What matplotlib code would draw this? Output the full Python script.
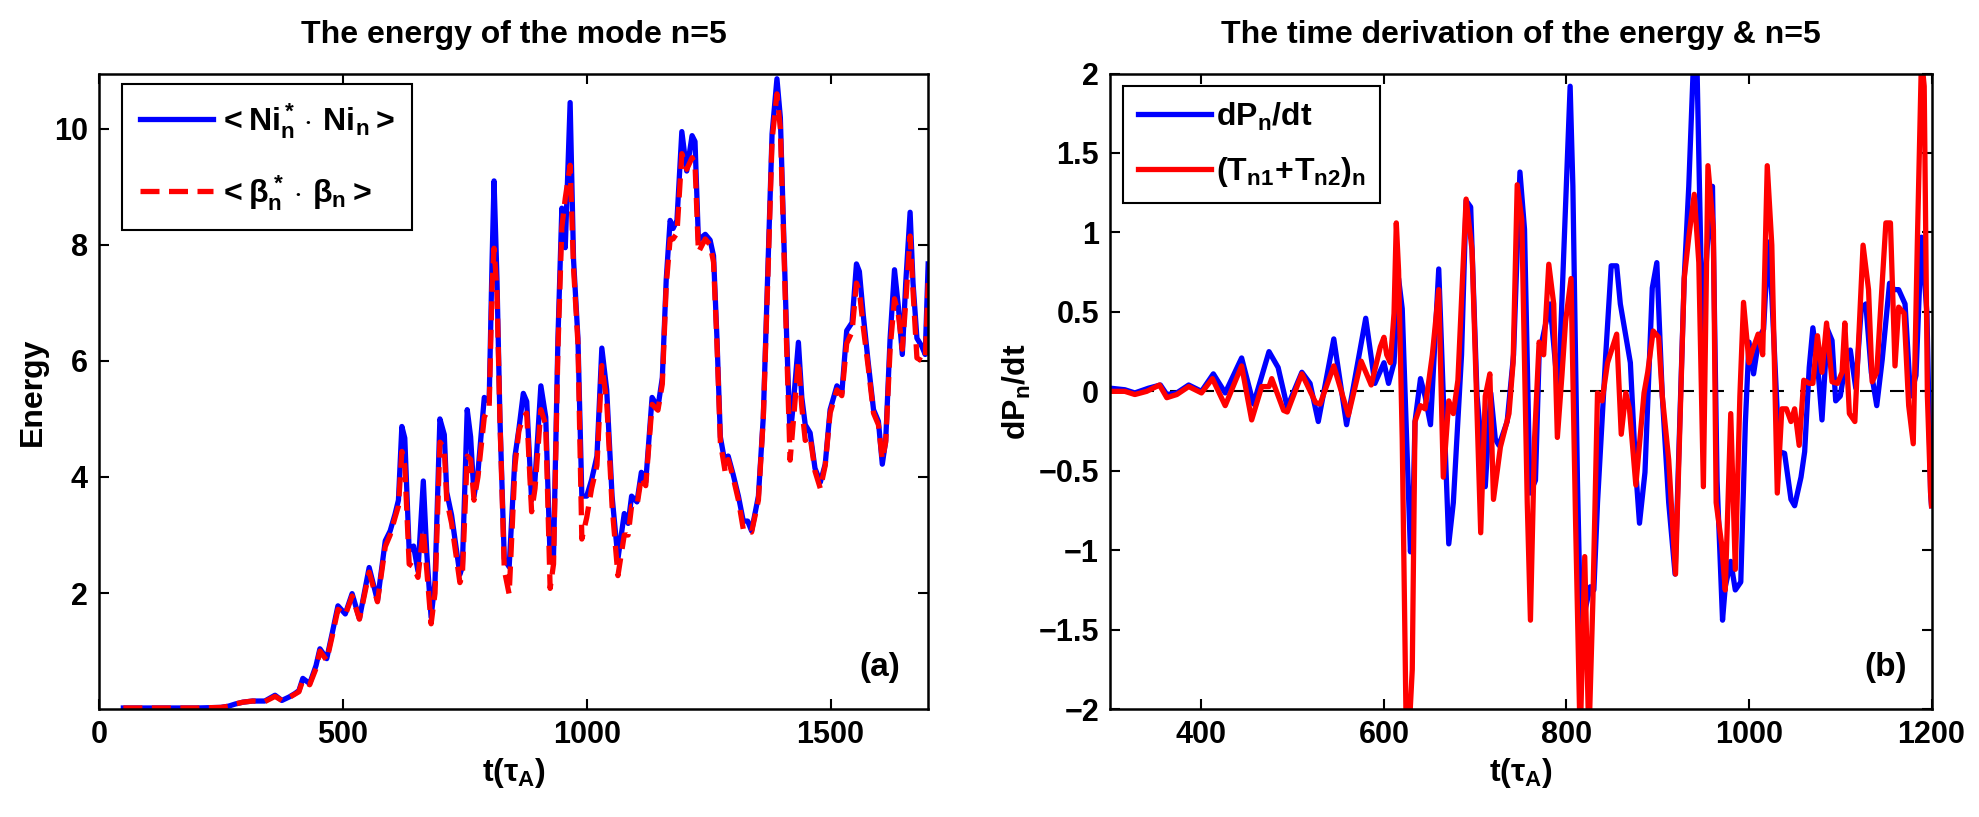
import numpy as np
import matplotlib
matplotlib.use("Agg")
import matplotlib.pyplot as plt

plt.rcParams['font.family'] = ['Liberation Sans', 'DejaVu Sans']
plt.rcParams['font.weight'] = 'bold'
plt.rcParams['mathtext.fontset'] = 'custom'
plt.rcParams['mathtext.rm'] = 'Liberation Sans:bold'
plt.rcParams['mathtext.it'] = 'Liberation Sans:bold'
plt.rcParams['mathtext.bf'] = 'Liberation Sans:bold'

# ---- panel (a): energy of mode n=5 ----
t_a = [50, 100, 150, 200, 250, 265, 280, 295, 315, 340, 361, 375, 390, 402, 410,
       418, 432, 445, 453, 467, 478, 490, 505, 519, 534, 554, 571, 587, 597, 607,
       614, 621, 627, 636, 645, 654, 665, 672, 681, 689, 699, 708, 713, 723, 740,
       745, 755, 762, 769, 777, 790, 800, 806, 810, 816, 822, 831, 841, 853, 861,
       870, 877, 887, 894, 906, 916, 925, 932, 941, 949, 956, 966, 973, 982, 990,
       1000, 1010, 1021, 1031, 1041, 1052, 1064, 1077, 1085, 1092, 1103, 1112, 1121, 1134, 1146,
       1155, 1163, 1171, 1177, 1185, 1195, 1205, 1216, 1222, 1229, 1243, 1253, 1260, 1267, 1274,
       1284, 1290, 1300, 1311, 1321, 1330, 1338, 1352, 1362, 1372, 1380, 1390, 1397, 1403, 1410,
       1417, 1424, 1434, 1441, 1448, 1458, 1468, 1479, 1489, 1499, 1513, 1523, 1533, 1544, 1553,
       1559, 1567, 1577, 1588, 1598, 1606, 1613, 1622, 1631, 1639, 1647, 1654, 1663, 1669, 1677,
       1687, 1694, 1700]
energy_ni = [0.02, 0.02, 0.02, 0.02, 0.03, 0.05, 0.09, 0.12, 0.14, 0.14, 0.24, 0.15, 0.21, 0.27, 0.32,
             0.53, 0.44, 0.75, 1.04, 0.87, 1.30, 1.78, 1.64, 1.99, 1.56, 2.44, 1.87, 2.90, 3.07, 3.36,
             3.60, 4.87, 4.67, 2.73, 2.81, 2.38, 3.93, 2.70, 1.58, 2.20, 5.00, 4.73, 3.74, 3.34, 2.32,
             2.45, 5.16, 4.69, 3.67, 4.08, 5.37, 5.30, 7.74, 9.10, 7.41, 5.03, 2.59, 2.45, 4.36, 4.83,
             5.44, 5.30, 3.60, 3.95, 5.57, 5.03, 2.59, 2.66, 6.39, 8.63, 7.95, 10.45, 7.74, 6.39, 3.67,
             3.67, 3.95, 4.36, 6.22, 5.50, 3.67, 2.59, 3.37, 3.20, 3.67, 3.57, 4.08, 3.91, 5.37, 5.20,
             5.71, 7.40, 8.42, 8.28, 8.42, 9.95, 9.27, 9.88, 9.78, 8.08, 8.18, 8.08, 7.81, 6.39, 4.69,
             4.22, 4.36, 4.05, 3.67, 3.24, 3.24, 3.07, 3.67, 5.03, 7.74, 9.91, 10.86, 10.19, 8.42, 6.39,
             4.69, 5.30, 6.32, 5.37, 4.90, 4.76, 4.15, 3.91, 4.22, 5.16, 5.57, 5.44, 6.52, 6.66, 7.67,
             7.54, 6.79, 5.98, 5.16, 4.96, 4.22, 4.63, 6.39, 7.57, 6.93, 6.11, 7.34, 8.56, 7.34, 6.39,
             6.25, 6.11, 7.67]
energy_beta = [0.02, 0.02, 0.02, 0.02, 0.03, 0.05, 0.09, 0.12, 0.14, 0.13, 0.22, 0.15, 0.20, 0.26, 0.30,
               0.50, 0.42, 0.70, 1.00, 0.84, 1.25, 1.72, 1.62, 1.95, 1.55, 2.36, 1.85, 2.80, 3.00, 3.30,
               3.50, 4.44, 4.20, 2.50, 2.45, 2.27, 3.10, 2.40, 1.47, 2.00, 4.60, 4.50, 3.60, 3.20, 2.18,
               2.30, 4.36, 4.30, 3.60, 4.00, 5.03, 5.20, 7.30, 7.94, 7.20, 5.00, 2.40, 1.98, 4.20, 4.80,
               5.03, 5.10, 3.40, 3.80, 5.16, 4.90, 2.08, 2.50, 6.20, 8.30, 8.80, 9.37, 7.60, 6.30, 2.93,
               3.30, 3.80, 4.20, 5.92, 5.30, 3.50, 2.30, 3.00, 3.00, 3.50, 3.50, 4.00, 3.85, 5.25, 5.15,
               5.60, 7.30, 8.10, 8.10, 8.20, 9.57, 9.30, 9.50, 9.40, 7.87, 8.10, 8.00, 7.70, 6.30, 4.60,
               4.08, 4.30, 4.00, 3.60, 3.10, 3.10, 3.05, 3.60, 5.00, 7.60, 9.80, 10.60, 10.00, 8.30, 6.20,
               4.29, 5.00, 6.00, 5.20, 4.63, 4.70, 4.10, 3.80, 4.20, 5.10, 5.50, 5.40, 6.30, 6.50, 7.34,
               7.20, 6.58, 5.90, 5.10, 4.90, 4.30, 4.60, 6.20, 7.07, 6.80, 6.20, 7.00, 8.15, 7.20, 6.05,
               6.00, 6.00, 7.34]

# ---- panel (b): time derivation of the energy ----
t_dp = [300, 316, 327, 342, 355, 362, 373, 386, 400, 413, 426, 444, 457, 474, 484,
        494, 510, 519, 528, 545, 559, 580, 590, 600, 605, 611, 616, 620, 629, 632,
        634, 640, 645, 651, 660, 665, 671, 676, 685, 690, 695, 702, 711, 717, 722,
        726, 735, 742, 749, 754, 760, 766, 770, 777, 782, 791, 797, 804, 807, 812,
        816, 821, 826, 830, 834, 843, 849, 855, 859, 870, 876, 880, 886, 894, 899,
        905, 912, 919, 929, 934, 939, 943, 949, 954, 960, 965, 971, 974, 980, 985,
        991, 996, 1000, 1005, 1011, 1016, 1021, 1025, 1033, 1039, 1046, 1050, 1057, 1061, 1066,
        1070, 1075, 1080, 1086, 1091, 1095, 1100, 1106, 1111, 1117, 1123, 1128, 1134, 1140, 1146,
        1154, 1159, 1164, 1171, 1177, 1183, 1189, 1195, 1199, 1200]
dp_dt = [0.02, 0.01, -0.01, 0.02, 0.04, -0.02, -0.01, 0.04, 0.00, 0.11, -0.01, 0.21, -0.08, 0.25, 0.15,
         -0.10, 0.12, 0.05, -0.19, 0.33, -0.21, 0.46, 0.05, 0.18, 0.05, 0.18, 0.71, 0.52, -1.01, -0.70,
         -0.19, 0.08, -0.03, -0.21, 0.77, -0.03, -0.96, -0.70, 0.23, 1.20, 1.16, -0.03, -0.60, -0.01, -0.30,
         -0.34, -0.19, 0.23, 1.38, 1.02, -0.64, -0.56, 0.23, 0.42, 0.55, -0.03, 0.87, 1.92, 1.29, -0.56,
         -1.62, -1.36, -1.23, -1.25, -0.70, 0.23, 0.79, 0.79, 0.55, 0.18, -0.51, -0.83, -0.51, 0.65, 0.81,
         -0.03, -0.70, -1.15, 0.71, 1.29, 2.05, 2.05, 0.36, 0.89, 1.29, -0.56, -1.44, -1.23, -1.07, -1.25,
         -1.20, -0.20, 0.31, 0.11, 0.34, 0.39, 0.94, 0.60, -0.38, -0.39, -0.68, -0.72, -0.54, -0.38, 0.15,
         0.40, 0.18, -0.18, 0.39, 0.32, -0.06, -0.03, 0.18, 0.26, 0.02, 0.52, 0.55, 0.12, -0.09, 0.20,
         0.68, 0.64, 0.64, 0.55, -0.03, 0.10, 0.97, 0.49, -0.64, -0.72]

t_tn = [300, 316, 327, 340, 354, 362, 373, 386, 400, 412, 426, 444, 455, 466, 474,
        477, 490, 494, 510, 525, 530, 545, 561, 575, 586, 596, 600, 603, 607, 611,
        613.5, 616, 620, 624.5, 627, 631, 634, 640, 645, 653, 660, 665, 671, 676, 681,
        690, 696.5, 706, 711, 716, 720, 727.6, 737, 741.5, 746, 751, 757, 760.5, 765, 770,
        775, 780.6, 786, 790, 795, 799, 805, 810, 815, 820, 824.5, 829, 834, 839, 845,
        855, 860, 865, 869, 876, 885, 889, 895, 901, 905, 912, 919.5, 929, 934, 940,
        945, 950, 955, 961, 964, 970, 974, 980, 985, 990, 994, 1000, 1004, 1010, 1015,
        1020, 1025, 1031, 1036, 1041, 1046, 1050, 1055, 1060, 1066, 1070, 1075, 1080, 1085, 1091,
        1097, 1102, 1105, 1110, 1116, 1125, 1131, 1135, 1140, 1146, 1150, 1155, 1160, 1164, 1170,
        1175, 1180, 1184.5, 1189, 1192, 1195.5, 1199, 1200]
tn_sum = [0.00, 0.00, -0.02, 0.00, 0.04, -0.04, -0.02, 0.03, -0.01, 0.08, -0.09, 0.16, -0.18, 0.03, 0.03,
          0.08, -0.12, -0.13, 0.11, -0.07, -0.08, 0.16, -0.15, 0.19, 0.04, 0.28, 0.34, 0.23, 0.18, 0.49,
          1.06, 0.76, -0.30, -2.20, -2.20, -1.75, -0.19, -0.09, -0.11, 0.23, 0.64, -0.54, -0.06, -0.14, 0.07,
          1.21, 0.89, -0.89, -0.03, 0.11, -0.68, -0.35, -0.14, 0.18, 1.30, 1.08, -0.70, -1.44, -0.30, 0.31,
          0.23, 0.80, 0.55, -0.29, 0.10, 0.44, 0.71, -0.83, -2.20, -1.04, -2.20, -1.30, -0.01, -0.06, 0.18,
          0.36, -0.27, -0.01, -0.11, -0.59, -0.01, 0.12, 0.38, 0.34, -0.03, -0.43, -1.15, 0.71, 0.97, 1.24,
          0.81, -0.60, 1.42, 1.02, -0.70, -0.96, -1.25, -0.14, -1.12, -0.03, 0.56, 0.18, 0.26, 0.36, 0.23,
          1.42, 0.92, -0.64, -0.11, -0.11, -0.19, -0.11, -0.34, 0.07, 0.05, 0.05, 0.35, 0.12, 0.43, 0.06,
          0.05, 0.12, 0.43, -0.14, -0.19, 0.92, 0.64, 0.06, 0.12, 0.68, 1.06, 1.06, 0.16, 0.53, 0.49,
          -0.09, -0.33, 0.94, 2.10, 1.92, -0.03, -0.64, -0.72]

blue = (0, 0, 1)
red = (1, 0, 0)
fs = 22

fig = plt.figure(figsize=(19.79, 8.17), dpi=100)
ax1 = fig.add_axes([0.050, 0.132, 0.419, 0.778])
ax2 = fig.add_axes([0.561, 0.132, 0.415, 0.778])

ax1.plot(t_a, energy_ni, color=blue, lw=3.8, label=r'$<\mathrm{Ni}_n^*\cdot\,\mathrm{Ni}_n>$')
ax1.plot(t_a, energy_beta, color=red, lw=3.8, dashes=(3.6, 1.8),
         label=r'$<\beta_n^*\cdot\,\beta_n>$')
ax1.set_xlim(0, 1700)
ax1.set_ylim(0, 10.95)
ax1.set_xticks([0, 500, 1000, 1500])
ax1.set_yticks([2, 4, 6, 8, 10])
ax1.set_title('The energy of the mode n=5', fontsize=fs + 1, fontweight='bold', pad=22)
ax1.set_xlabel(r'$\mathrm{t}(\tau_A)$', fontsize=fs + 1)
ax1.set_ylabel('Energy', fontsize=fs + 1, fontweight='bold')
ax1.text(0.942, 0.066, '(a)', transform=ax1.transAxes, fontsize=fs + 2,
         fontweight='bold', ha='center', va='center')
leg1 = ax1.legend(loc='upper left', bbox_to_anchor=(0.028, 0.984), fontsize=fs + 1,
                  handlelength=2.3, handletextpad=0.15, labelspacing=1.0,
                  borderpad=0.55, borderaxespad=0, fancybox=False, framealpha=1)

ax2.axhline(0, color='k', lw=1.5, dashes=(6.7, 7.7))
ax2.plot(t_dp, dp_dt, color=blue, lw=3.8, label=r'$\mathrm{dP}_n/\mathrm{dt}$')
ax2.plot(t_tn, tn_sum, color=red, lw=3.8, label=r'$(\mathrm{T}_{n1}\!+\!\mathrm{T}_{n2})_n$')
ax2.set_xlim(300, 1200)
ax2.set_ylim(-2, 2)
ax2.set_xticks([400, 600, 800, 1000, 1200])
ax2.set_yticks([-2, -1.5, -1, -0.5, 0, 0.5, 1, 1.5, 2])
ax2.set_yticklabels(['\u22122', '\u22121.5', '\u22121', '\u22120.5', '0', '0.5', '1', '1.5', '2'])
ax2.set_title('The time derivation of the energy & n=5', fontsize=fs + 1, fontweight='bold', pad=22)
ax2.set_xlabel(r'$\mathrm{t}(\tau_A)$', fontsize=fs + 1)
ax2.set_ylabel(r'$\mathrm{dP}_n/\mathrm{dt}$', fontsize=fs + 1)
ax2.text(0.944, 0.066, '(b)', transform=ax2.transAxes, fontsize=fs + 2,
         fontweight='bold', ha='center', va='center')
leg2 = ax2.legend(loc='upper left', bbox_to_anchor=(0.016, 0.98), fontsize=fs + 1,
                  handlelength=2.3, handletextpad=0.15, labelspacing=0.7,
                  borderpad=0.45, borderaxespad=0, fancybox=False, framealpha=1)

for leg in (leg1, leg2):
    leg.get_frame().set_edgecolor('k')
    leg.get_frame().set_linewidth(1.5)

for ax in (ax1, ax2):
    for s in ax.spines.values():
        s.set_linewidth(1.8)
    ax.tick_params(direction='in', top=True, right=True, length=7, width=1.5,
                   labelsize=fs, pad=8)
    for lab in ax.get_xticklabels() + ax.get_yticklabels():
        lab.set_fontweight('bold')

fig.savefig('out.png', dpi=100)
